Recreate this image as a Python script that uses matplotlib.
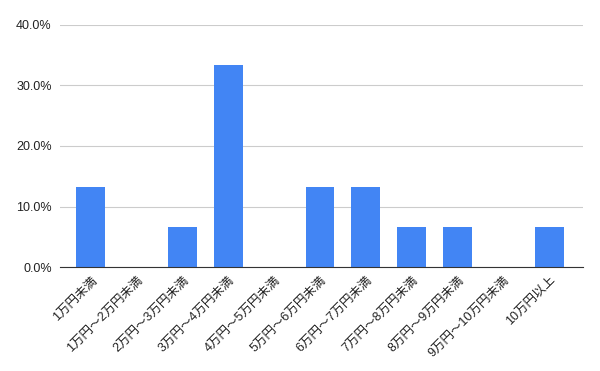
import matplotlib
matplotlib.use("Agg")
import matplotlib.pyplot as plt
from matplotlib.ticker import FuncFormatter

plt.rcParams['font.family'] = ['Liberation Sans', 'Noto Sans CJK JP', 'DejaVu Sans']

categories = ["1万円未満", "1万円〜2万円未満", "2万円〜3万円未満", "3万円〜4万円未満",
              "4万円〜5万円未満", "5万円〜6万円未満", "6万円〜7万円未満", "7万円〜8万円未満",
              "8万円〜9万円未満", "9万円〜10万円未満", "10万円以上"]
values = [13.3, 0, 6.7, 33.3, 0, 13.3, 13.3, 6.7, 6.7, 0, 6.7]
yticks = [0, 10, 20, 30, 40]

fig = plt.figure(figsize=(6, 3.71), dpi=100)
ax = fig.add_axes([0.1, 0.28, 0.872, 0.653])
x = list(range(len(categories)))
ax.bar(x, values, width=0.63, color="#4285F4", zorder=3)
ax.set_ylim(0, 40)
ax.set_xlim(-0.67, 10.74)
ax.set_yticks(yticks)
ax.yaxis.set_major_formatter(FuncFormatter(lambda v, p: f"{v:.1f}%"))
ax.grid(axis='y', color="#cccccc", linewidth=0.8, zorder=0)
for s in ['top', 'right', 'left']:
    ax.spines[s].set_visible(False)
ax.spines['bottom'].set_color("#333333")
ax.spines['bottom'].set_zorder(4)
ax.tick_params(axis='both', length=0, colors="#222222", labelsize=9)
ax.tick_params(axis='y', pad=6)
ax.tick_params(axis='x', pad=5)
ax.set_xticks(x)
ax.set_xticklabels(categories, rotation=45, ha='right', rotation_mode='anchor')
fig.savefig("out.png", dpi=100)
